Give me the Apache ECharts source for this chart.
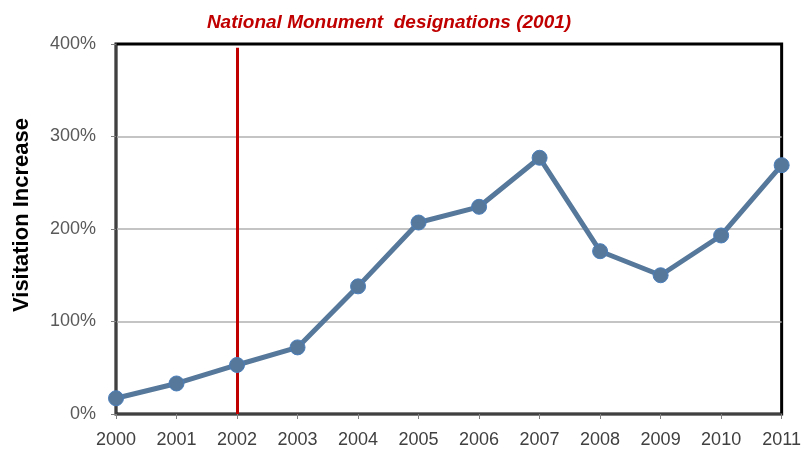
<!DOCTYPE html>
<html><head><meta charset="utf-8">
<script src="https://cdn.jsdelivr.net/npm/echarts@6/dist/echarts.min.js"></script>
<style>html,body{margin:0;padding:0;background:#fff}#c{width:804px;height:455px}</style>
</head><body><div id="c"></div>
<script>
const years = ['2000','2001','2002','2003','2004','2005','2006','2007','2008','2009','2010','2011'];
const visitationIncrease = [17, 33, 53, 72, 138, 207, 224, 277, 176, 150, 193, 269];
const yTicks = [0, 100, 200, 300, 400];
const designationYear = '2002';
const titleText = 'National Monument  designations (2001)';
const yAxisTitle = 'Visitation Increase';

const chart = echarts.init(document.getElementById('c'), null, {renderer: 'canvas'});
chart.setOption({
  animation: false,
  backgroundColor: '#fff',
  title: {
    text: titleText,
    left: 384, top: 8, textAlign: 'center',
    textStyle: {fontFamily: 'Liberation Sans', fontStyle: 'italic', fontWeight: 'bold', fontSize: 19, color: '#C00000'}
  },
  graphic: [{
    type: 'text', x: 22, y: 215, rotation: Math.PI / 2,
    style: {text: yAxisTitle, fontFamily: 'Liberation Sans', fontWeight: 'bold', fontSize: 22, fill: '#000', align: 'center', verticalAlign: 'middle'}
  }],
  grid: {left: 116, right: 21, top: 44, bottom: 41, show: true, borderColor: '#000', borderWidth: 3, backgroundColor: 'transparent'},
  xAxis: {
    type: 'category', data: years, boundaryGap: false,
    axisLine: {lineStyle: {color: '#404040', width: 2}},
    axisTick: {show: true, length: 5, alignWithLabel: true, lineStyle: {color: '#808080'}},
    axisLabel: {fontFamily: 'Liberation Sans', fontSize: 18, color: '#404040', margin: 17}
  },
  yAxis: {
    type: 'value', min: yTicks[0], max: yTicks[yTicks.length-1], interval: 100,
    axisLine: {show: true, lineStyle: {color: '#404040', width: 2}},
    axisTick: {show: true, length: 5, lineStyle: {color: '#808080'}},
    splitLine: {lineStyle: {color: ['#b0b0b0','#b0b0b0','#b0b0b0','#b0b0b0','#000'], width: 1.5}},
    axisLabel: {fontFamily: 'Liberation Sans', fontSize: 18, color: '#595959', margin: 20, formatter: '{value}%'}
  },
  series: [{
    type: 'line', data: visitationIncrease,
    symbol: 'circle', symbolSize: 15,
    lineStyle: {color: '#56789a', width: 5},
    itemStyle: {color: '#56789a', borderColor: '#4a7ebb', borderWidth: 1},
    z: 3,
    markLine: {
      silent: true, symbol: ['none','none'],
      lineStyle: {color: '#C00000', width: 3, type: 'solid'},
      label: {show: false},
      data: [[{coord: [designationYear, 0]}, {coord: [designationYear, 396]}]],
      z: 2
    }
  }]
});
</script></body></html>
